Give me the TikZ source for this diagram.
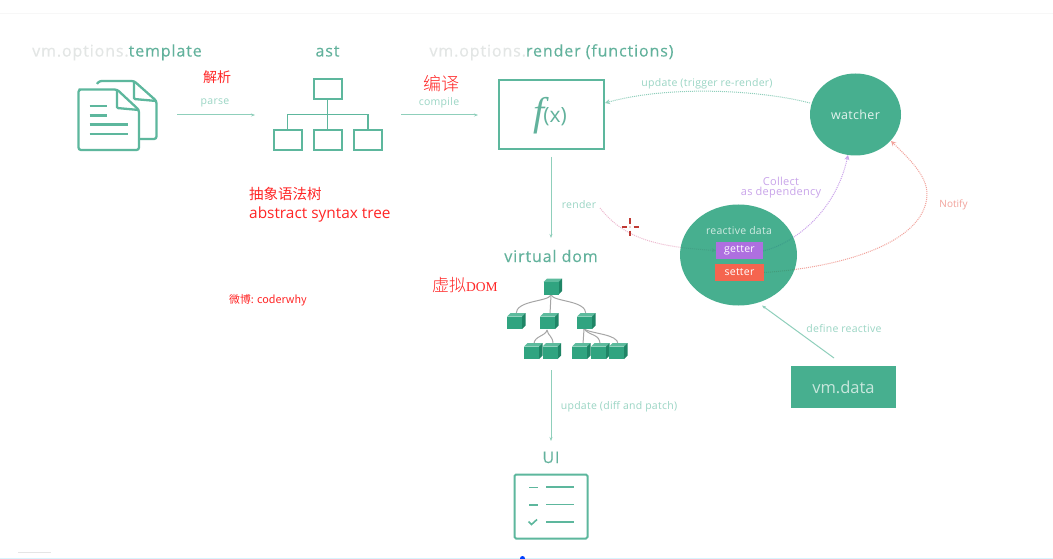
\documentclass[tikz,border=0pt]{standalone}
\usepackage{fontspec}
\setmainfont{Open Sans}
\newfontfamily\cjk{Noto Sans CJK SC}
\newfontfamily\cjklight{Noto Sans CJK SC Light}
\newfontfamily\lib{Liberation Serif}
\newfontfamily\spr[LetterSpace=5.5,FakeBold=0.25]{Open Sans}
\newfontfamily\sps[LetterSpace=2.5]{Open Sans}
\usetikzlibrary{arrows.meta,shapes.geometric}
\pgfdeclarelayer{bg}
\pgfsetlayers{bg,main}
\definecolor{gr}{HTML}{47AF8F}
\definecolor{grthin}{HTML}{199B73}
\definecolor{grline}{HTML}{5DB79D}
\definecolor{grarrow}{HTML}{8FCFBB}
\definecolor{grtext}{HTML}{9AD5C4}
\definecolor{headgr}{HTML}{62B29C}
\definecolor{headgrey}{HTML}{E3E6E5}
\definecolor{purp}{HTML}{AE6FE0}
\definecolor{purptext}{HTML}{C9A4EA}
\definecolor{org}{HTML}{F5654F}
\definecolor{notif}{HTML}{F2A29B}
\definecolor{pinkdot}{HTML}{EDB9CF}
\definecolor{crossred}{HTML}{C03A34}
\definecolor{cubeF}{HTML}{30A480}
\definecolor{cubeT}{HTML}{5DBB9D}
\definecolor{cubeR}{HTML}{1F8566}
\newcommand{\fs}[1]{\fontsize{#1}{#1}\selectfont}
\newcommand{\cubeat}[3]{% name, left x, top y (of the whole 19x17 cube)
  \fill[cubeT] (#2,#3+3.5) -- (#2+3.5,#3) -- (#2+18.5,#3) -- (#2+15,#3+3.5) -- cycle;
  \fill[cubeR] (#2+15,#3+3.5) -- (#2+18.5,#3) -- (#2+18.5,#3+12.5) -- (#2+15,#3+16) -- cycle;
  \node[rectangle,fill=cubeF,minimum width=15pt,minimum height=12.5pt,inner sep=0pt,anchor=north west] (#1) at (#2,#3+3.5) {};
}
\tikzset{
  head/.style={font=\spr\fs{16},inner sep=0pt,anchor=base},
  small/.style={font=\sps\fs{10.5},text=grtext,inner sep=0pt},
  ann/.style={text=red!85!white,inner sep=0pt},
  flow/.style={draw=grarrow,line width=1pt,-{Stealth[length=4pt,width=3pt]}},
  dots/.style={densely dotted,line width=1pt,-{Stealth[length=5pt,width=5pt]}},
  icon/.style={draw=grline,line width=2.3pt},
  boxg/.style={rectangle,draw=grline,line width=2pt,inner sep=0pt},
  tag/.style={rectangle,inner sep=0pt,text=white,font=\sps\fs{10.5}},
  edge/.style={draw=gray!70,line width=1pt},
}
\begin{document}
\begin{tikzpicture}[x=1pt,y=-1pt]
\useasboundingbox (0,0) rectangle (1053,559);
\begin{pgfonlayer}{bg}
\fill[white] (0,0) rectangle (1053,559);
\end{pgfonlayer}
\fill[black!3] (0,13.5) rectangle (1053,14.5);
\fill[black!10] (18,551.5) rectangle (51,553);
\fill[cyan!15] (0,558) rectangle (1053,559);
\fill[blue!75!cyan] (522.5,558.5) circle (2.5);

% headings
\node[head] (h1) at (117,56.5) {\textcolor{headgrey}{vm.options.}\textcolor{headgr}{template}};
\node[head,text=headgr] (h2) at (327.5,56.5) {ast};
\node[head] (h3) at (551.5,56.5) {\textcolor{headgrey}{vm.options.}\textcolor{headgr}{render (functions)}};
\node[head,text=headgr] (h4) at (551,262) {virtual dom};
\node[head,text=headgr] (h5) at (551,463) {UI};

% template icon
\begin{scope}[icon,rounded corners=2.5pt]
  \draw (97,84) -- (99,81) -- (134,81) -- (156.5,101) -- (156.5,139) -- (140,139);
  \draw[rounded corners=1pt] (134,81) -- (134,99) -- (156.5,101);
  \draw (81,89.5) -- (117,89.5) -- (139,110) -- (139,150) -- (78.5,150) -- (78.5,89.5) -- cycle;
  \draw[rounded corners=1pt] (117,89.5) -- (117,108) -- (139,110);
\end{scope}
\draw[icon] (89.5,106) -- (107,106) (89.5,115.5) -- (107,115.5) (89.5,124.5) -- (128,124.5) (89.5,134) -- (128,134);

% ast tree
\node[boxg,minimum width=28pt,minimum height=20pt] (a0) at (327.5,89) {};
\node[boxg,minimum width=28pt,minimum height=20pt] (a1) at (287.5,140) {};
\node[boxg,minimum width=28pt,minimum height=20pt] (a2) at (327.5,140) {};
\node[boxg,minimum width=28pt,minimum height=20pt] (a3) at (368,140) {};
\draw[icon,line width=1.9pt] (a0.south) -- (a2.north);
\draw[icon,line width=1.9pt] (a1.north) -- (287.5,114.5) -- (368,114.5) -- (a3.north);

% arrows across top
\coordinate (p1) at (177,115);
\coordinate (p2) at (255,115);
\coordinate (c1) at (401,115);
\coordinate (c2) at (478,115);
\draw[flow] (p1) -- (p2);
\draw[flow] (c1) -- (c2);
\node[small] (parse) at (215,103) {parse};
\node[small] (compile) at (439,103) {compile};

% annotations
\node[ann,font=\cjk\fs{14}] (jx) at (217,77) {解析};
\node[ann,font=\cjklight\fs{18}] (by) at (441,84) {编译};
\node[ann,font=\cjk\fs{14.5},anchor=west] (cx) at (249,193.5) {抽象语法树};
\node[ann,font=\fs{15.4},anchor=west] (ab) at (249,214) {abstract syntax tree};
\node[ann,font=\cjk\fs{10.8}] (wb) at (268,300.5) {微博: coderwhy};
\node[ann,font=\cjklight\fs{17},anchor=west] (xn) at (432,285) {虚拟{\lib\fs{13.5}DOM}};

% f(x)
\node[boxg,minimum width=105pt,minimum height=69pt] (fx) at (551,114.5) {};
\node[inner sep=0pt,text=headgr] (fl) at (550,116) {\fs{40}\lib\itshape f\kern-1pt\raisebox{3pt}{\fs{21}\rmfamily\upshape(x)}};

% render arrow
\coordinate (r1) at (551,157);
\coordinate (r2) at (551,238);
\draw[flow] (r1) -- (r2);
\node[small] (rl) at (579,205) {render};

% ellipses
\node[ellipse,fill=gr,minimum width=91pt,minimum height=82pt,inner sep=0pt,text=white!85!gr,font=\sps\fs{12.5}] (watcher) at (855.5,114.5) {watcher};
\node[ellipse,fill=grthin,fill opacity=.8,minimum width=117pt,minimum height=101pt,inner sep=0pt] (rd) at (738.5,255) {};
\node[inner sep=0pt,text=white!75!gr,font=\sps\fs{10.5}] (rdl) at (739,230.5) {reactive data};
\node[tag,fill=purp,minimum width=47pt,minimum height=17pt] (getter) at (739.5,250.5) {getter};
\node[tag,fill=org,minimum width=49pt,minimum height=17pt] (setter) at (739.5,272.5) {setter};

% dotted connectors
\begin{pgfonlayer}{bg}
\coordinate (u1) at (810,103);
\coordinate (u2) at (605,103);
\draw[dots,draw=grarrow] (u1) .. controls (760,90) and (670,85) .. (u2);
\coordinate (rs) at (600,208);
\draw[dots,draw=pinkdot,-{Stealth[length=4pt,width=4pt]}] (rs) .. controls (625,240) and (660,247) .. (getter.west);
\coordinate (cg) at (763,251);
\coordinate (ce) at (848,155);
\draw[dots,draw=purp!65!white] (cg) .. controls (790,245) and (835,215) .. (ce);
\coordinate (ne) at (891,141);
\draw[dots,draw=notif] (setter.east) .. controls (835,268) and (925,245) .. (927,195) .. controls (928,175) and (905,155) .. (ne);
\end{pgfonlayer}
\node[small] (ul) at (707,84) {update (trigger re-render)};
\node[font=\sps\fs{11},text=purptext,inner sep=0pt] (cl1) at (781,181) {Collect};
\node[font=\sps\fs{11},text=purptext,inner sep=0pt] (cl2) at (781,193) {as dependency};
\node[font=\fs{10},text=notif,inner sep=0pt] (nl) at (953.5,204.5) {Notify};

% crosshair
\node[inner sep=0pt,minimum size=0pt] (ch) at (630,227) {};
\draw[crossred,line width=1.4pt] (621.5,227) -- (626.5,227) (633.5,227) -- (638.5,227) (630,218.5) -- (630,223.5) (630,230.5) -- (630,235.5);
\fill[crossred] (ch) circle (.6);

% vm.data
\node[rectangle,fill=gr,minimum width=105pt,minimum height=42pt,inner sep=0pt,text=white!70!gr,font=\fs{16.5}] (vmd) at (843.5,387) {vm.data};
\coordinate (d1) at (834,358);
\coordinate (d2) at (762,305.5);
\draw[flow] (d1) -- (d2);
\node[small] (dl) at (844,328.5) {define reactive};

% virtual dom tree
\coordinate (e0) at (551,295);
\coordinate (e1) at (516,314);
\coordinate (e2) at (550,314);
\coordinate (e3) at (586,314);
\coordinate (e4) at (547,330);
\coordinate (f1) at (534,344);
\coordinate (f2) at (553,344);
\coordinate (e5) at (584,329);
\coordinate (g1) at (583,344);
\coordinate (g2) at (600,344);
\coordinate (g3) at (618,344);
\draw[edge] (e0) .. controls (548,302) and (516,300) .. (e1);
\draw[edge] (e0) -- (e2);
\draw[edge] (e0) .. controls (554,302) and (586,300) .. (e3);
\draw[edge] (e4) .. controls (546,336) and (534,336) .. (f1);
\draw[edge] (e4) .. controls (548,336) and (553,336) .. (f2);
\draw[edge] (e5) -- (g1);
\draw[edge] (e5) .. controls (590,336) and (600,334) .. (g2);
\draw[edge] (e5) .. controls (592,334) and (618,334) .. (g3);
\cubeat{n0}{543.5}{278.5}
\cubeat{n1}{507}{313}
\cubeat{n2}{540}{313}
\cubeat{n3}{577}{313}
\cubeat{n4}{524}{343}
\cubeat{n5}{542.5}{343}
\cubeat{n6}{572}{343}
\cubeat{n7}{591}{343}
\cubeat{n8}{609}{343}

% update arrow
\coordinate (v1) at (551,370);
\coordinate (v2) at (551,441);
\draw[flow] (v1) -- (v2);
\node[small] (vl) at (619,407) {update (diff and patch)};

% UI icon
\node[rectangle,rounded corners=1.5pt,draw=grline,line width=2pt,minimum width=73pt,minimum height=64pt,inner sep=0pt] (ui) at (551,506.5) {};
\draw[draw=grline,line width=1.6pt] (529,487.5) -- (538,487.5) (546,487) -- (574,487)
  (529,505) -- (538,505) (546,504.5) -- (574,504.5) (546,522) -- (574,522);
\draw[draw=grline,line width=1.6pt] (528.5,521.5) -- (531.5,524.5) -- (537,519.5);
\end{tikzpicture}
\end{document}
